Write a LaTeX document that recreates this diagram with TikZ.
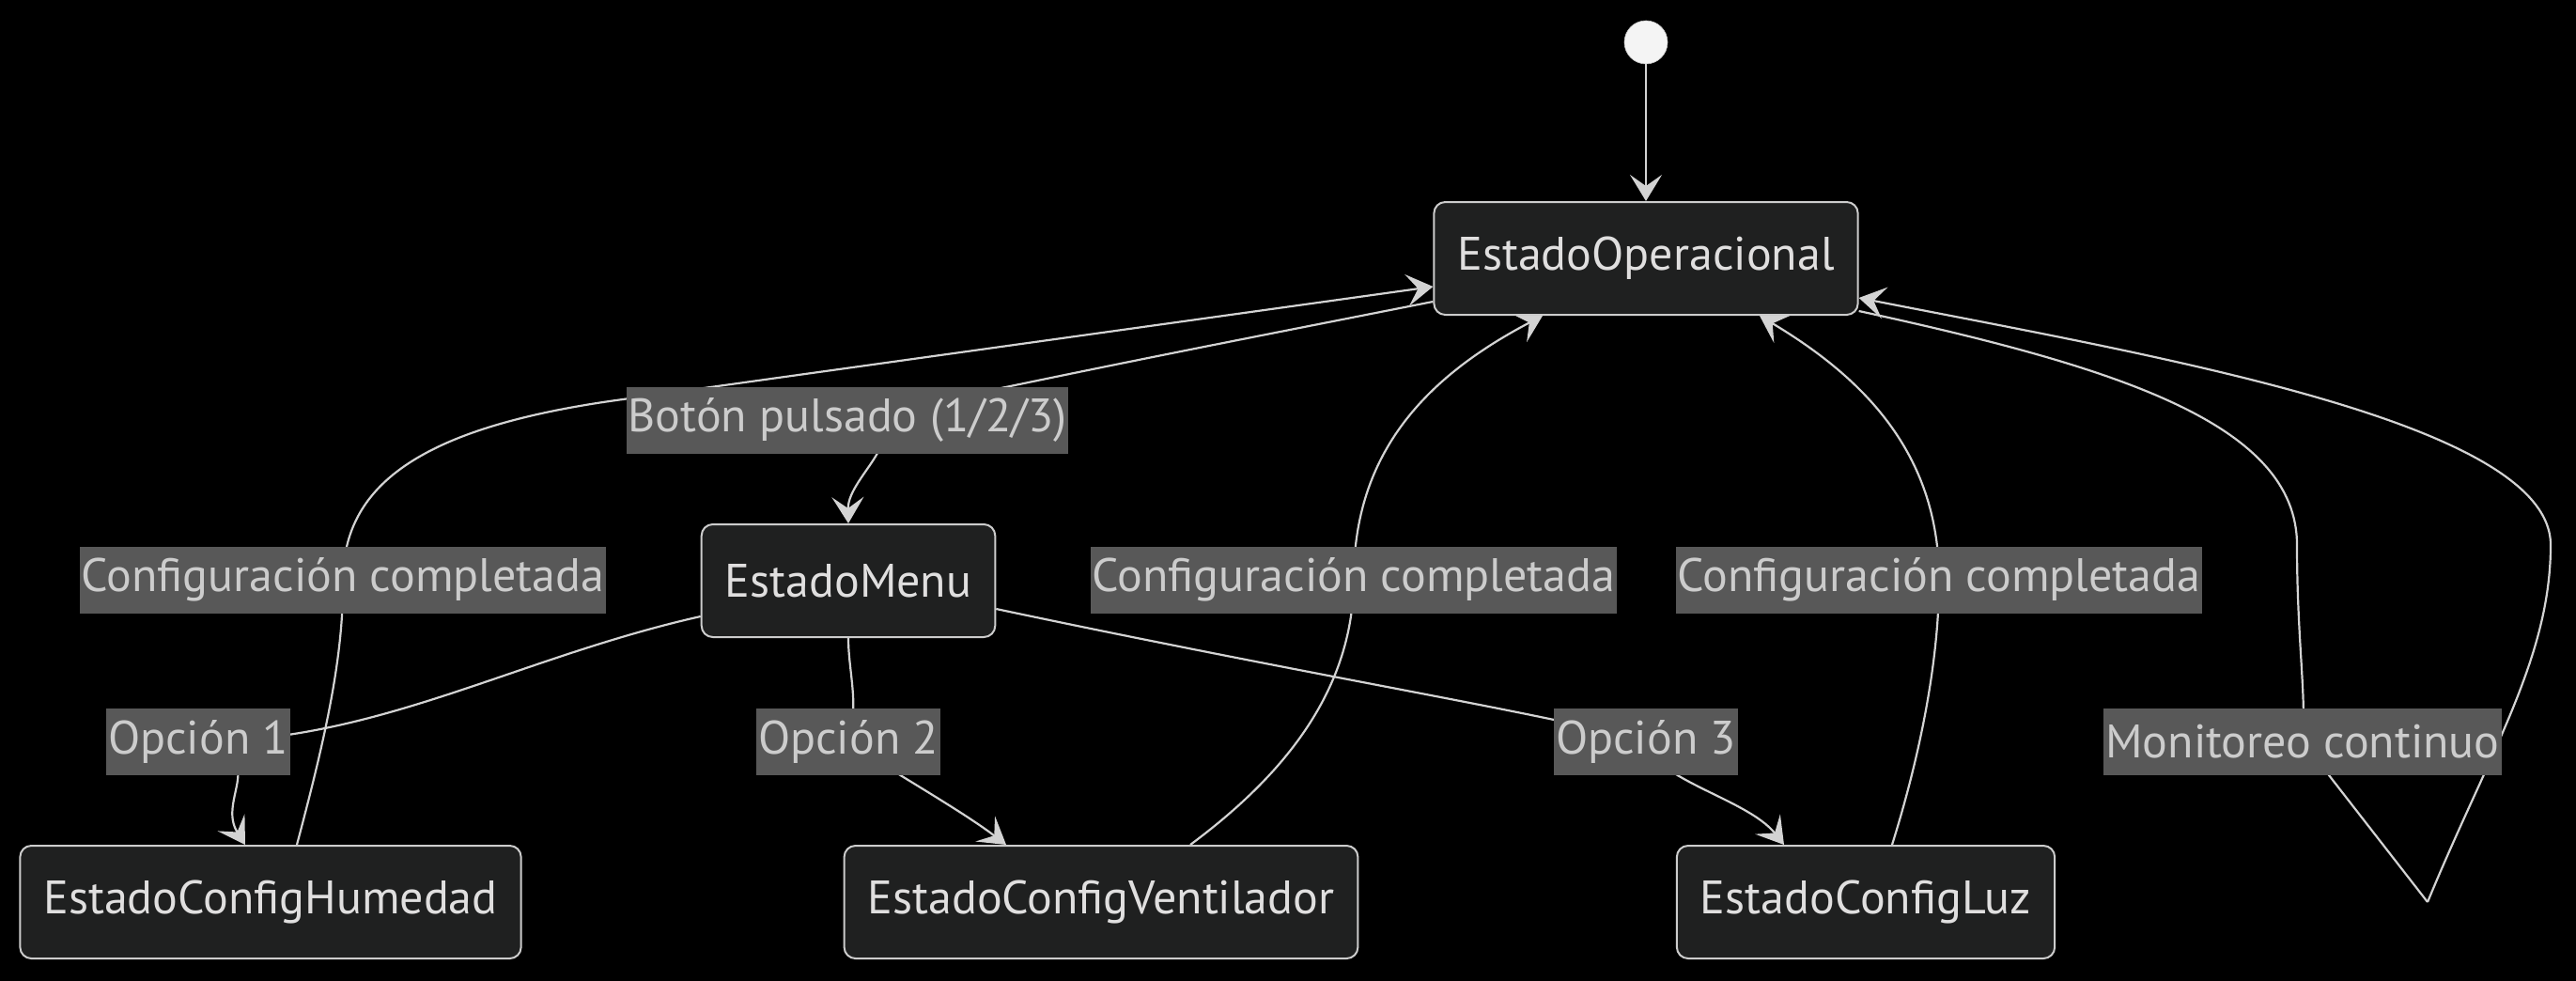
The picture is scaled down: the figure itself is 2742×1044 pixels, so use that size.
\documentclass[tikz,border=0pt]{standalone}
\usepackage{fontspec}
\setmainfont{PT Sans}
\usetikzlibrary{arrows.meta}

% colours of the dark theme
\definecolor{fondoNodo}{HTML}{1F2020}
\definecolor{bordeNodo}{HTML}{CCCCCC}
\definecolor{textoNodo}{HTML}{E0DFDF}
\definecolor{linea}{HTML}{D3D3D3}
\definecolor{fondoEtiq}{HTML}{585858}
\definecolor{textoEtiq}{HTML}{CCCCCC}
\definecolor{inicioCol}{HTML}{F4F4F4}

% edges go below the labels
\pgfdeclarelayer{fondo}
\pgfdeclarelayer{aristas}
\pgfsetlayers{fondo,aristas,main}

\begin{document}
\begin{tikzpicture}[x=1pt,y=-1pt,
	letra/.style={font=\fontsize{50}{60}\selectfont},
	estado/.style={letra, draw=bordeNodo, line width=2pt, fill=fondoNodo, rounded corners=12pt,
		text=textoNodo, minimum height=120pt, inner xsep=25pt},
	etiqueta/.style={letra, fill=fondoEtiq, text=textoEtiq, minimum height=71pt, inner xsep=2pt, inner ysep=0pt},
	inicio/.style={circle, fill=inicioCol, draw=bordeNodo, line width=0.6pt, minimum size=46pt, inner sep=0pt},
	trans/.style={draw=linea, line width=2.2pt, -{Stealth[length=28pt,width=34pt,inset=12pt]}},
	bucle/.style={draw=linea, line width=2.2pt}]

	\useasboundingbox (0,0) rectangle (2742,1044);
	\begin{pgfonlayer}{fondo}
		\fill[black] (0,0) rectangle (2742,1044);
	\end{pgfonlayer}

	% states
	\node[inicio] (start) at (1752,45) {};
	\node[estado] (op) at (1752,275) {EstadoOperacional};
	\node[estado] (menu) at (903,618) {EstadoMenu};
	\node[estado] (hum) at (288,960) {EstadoConfigHumedad};
	\node[estado] (vent) at (1172,960) {EstadoConfigVentilador};
	\node[estado] (luz) at (1986,960) {EstadoConfigLuz};

	% edge labels
	\node[etiqueta] (lBoton) at (902,447) {Botón pulsado (1/2/3)};
	\node[etiqueta] (lConf1) at (365,617) {Configuración completada};
	\node[etiqueta] (lConf2) at (1441,617) {Configuración completada};
	\node[etiqueta] (lConf3) at (2064,617) {Configuración completada};
	\node[etiqueta] (lOp1) at (211,789) {Opción 1};
	\node[etiqueta] (lOp2) at (903,789) {Opción 2};
	\node[etiqueta] (lOp3) at (1752,789) {Opción 3};
	\node[etiqueta] (lMon) at (2451,789) {Monitoreo continuo};
	% turning point of the self loop
	\coordinate (cusp) at (2584,960);

	\begin{pgfonlayer}{aristas}
		% start
		\draw[trans] (start) -- (op);
		% into the menu
		\draw[trans] ([yshift=-46pt]op.west) .. controls (1200,385) .. (lBoton.center)
			.. controls (985,455) and (902,505) .. (menu.north);
		% menu options
		\draw[trans] ([yshift=-38pt]menu.west) .. controls (550,700) and (400,790) .. (lOp1.center)
			.. controls (290,805) and (230,850) .. ([xshift=-27pt]hum.north);
		\draw[trans] (menu.south) .. controls (903,715) and (915,750) .. (lOp2.center)
			.. controls (930,810) and (1020,860) .. ([xshift=-101pt]vent.north);
		\draw[trans] ([yshift=-30pt]menu.east) .. controls (1400,720) and (1650,760) .. (lOp3.center)
			.. controls (1760,830) and (1860,850) .. ([xshift=-87pt]luz.north);
		% back to operation
		\draw[trans] ([xshift=28pt]hum.north) .. controls (345,790) and (366,700) .. (lConf1.center)
			.. controls (366,520) and (440,455) .. (663,425) -- ([yshift=-30pt]op.west);
		\draw[trans] ([xshift=95pt]vent.north) .. controls (1360,830) and (1440,740) .. (lConf2.center)
			.. controls (1441,480) and (1520,400) .. ([xshift=-110pt]op.south);
		\draw[trans] ([xshift=28pt]luz.north) .. controls (2045,800) and (2064,700) .. (lConf3.center)
			.. controls (2064,480) and (1980,400) .. ([xshift=121pt]op.south);
		% self loop, down the inner side and up the outer side
		\draw[bucle] ([yshift=-56pt]op.east) .. controls (2250,390) and (2445,450) .. (2445,580)
			.. controls (2445,680) and (2455,740) .. (lMon.center) -- (cusp);
		\draw[trans] (cusp) .. controls (2650,800) and (2715,700) .. (2715,580)
			.. controls (2715,450) and (2300,380) .. ([yshift=-42pt]op.east);
	\end{pgfonlayer}

\end{tikzpicture}
\end{document}
